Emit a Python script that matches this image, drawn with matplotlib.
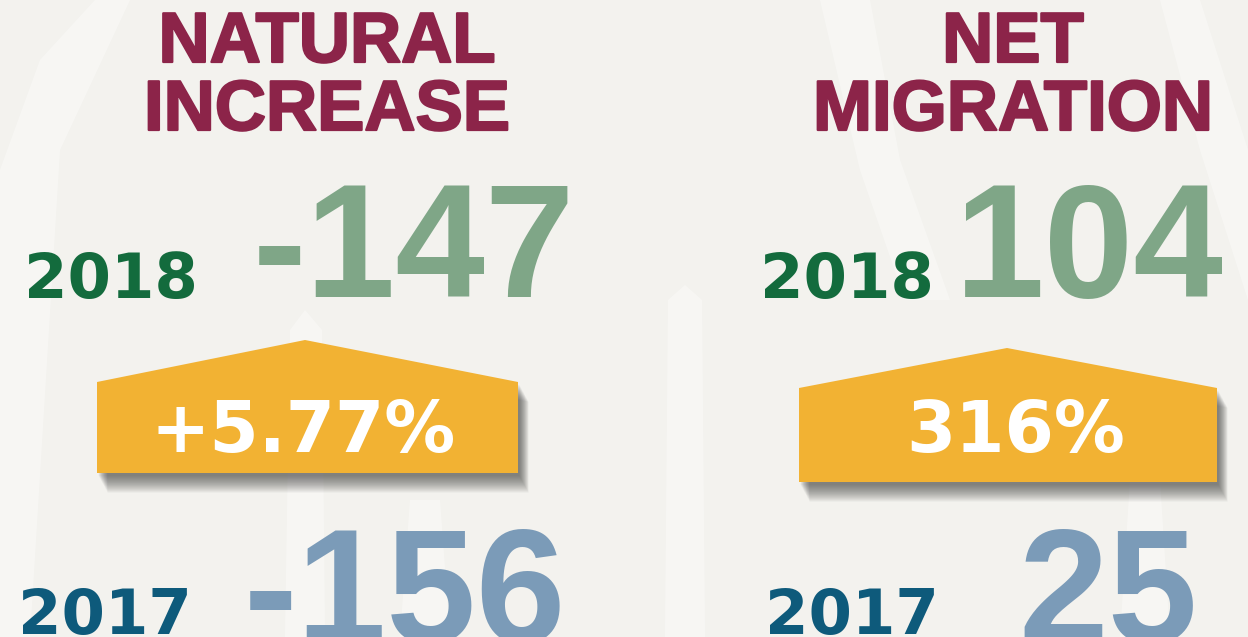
import numpy as np
import matplotlib
matplotlib.use("Agg")
import matplotlib.pyplot as plt
from matplotlib.patches import Polygon
import matplotlib.patheffects as pe

# data
titles = ["NATURAL\nINCREASE", "NET\nMIGRATION"]
years = ["2018", "2017"]
values_2018 = [-147, 104]
values_2017 = [-156, 25]
change_labels = ["+5.77%", "316%"]

BG = "#f3f2ee"
MAROON = "#8c2449"
GREEN_DARK = "#136b3d"
GREEN_LIGHT = "#7fa687"
BLUE_DARK = "#0e5a7b"
BLUE_LIGHT = "#7b9bb8"
GOLD = "#f2b233"

BOLD = "Liberation Sans"
WIDE = "DejaVu Sans"

fig = plt.figure(figsize=(12.48, 6.37), dpi=100)
fig.patch.set_facecolor(BG)
ax = fig.add_axes([0, 0, 1, 1])
ax.set_xlim(0, 1248)
ax.set_ylim(637, 0)
ax.axis("off")
ax.set_facecolor(BG)

# faint white brush strokes in the background
streaks = [
    [(0, 170), (40, 60), (95, 0), (130, 0), (60, 150), (30, 637), (0, 637)],
    [(285, 637), (290, 330), (305, 310), (322, 330), (325, 637)],
    [(665, 637), (668, 300), (685, 285), (702, 300), (705, 637)],
    [(820, 0), (870, 0), (900, 160), (950, 300), (905, 300), (860, 170)],
    [(1160, 0), (1200, 0), (1248, 150), (1248, 300), (1200, 150)],
    [(400, 637), (410, 500), (440, 500), (450, 637)],
    [(1120, 637), (1130, 480), (1160, 480), (1170, 637)],
]
for s in streaks:
    ax.add_patch(Polygon(s, closed=True, facecolor="white", edgecolor="none",
                         alpha=0.35, zorder=0))

# layout per panel: title centre, label x, number x, badge geometry
panels = [
    dict(cx=327, yr_x=[24, 18], num_x=[253, 244], badge=(97, 518, 305, 340, 382, 473), tx=303),
    dict(cx=1013, yr_x=[760, 765], num_x=[955, 1018], badge=(799, 1217, 1007, 348, 388, 482), tx=1016),
]

heavy = [pe.withStroke(linewidth=1.6, foreground=MAROON)]

for i, p in enumerate(panels):
    line1, line2 = titles[i].split("\n")
    ax.text(p["cx"], 62, line1, ha="center", va="baseline", fontsize=51,
            fontweight="bold", family=BOLD, color=MAROON, zorder=5,
            path_effects=heavy)
    ax.text(p["cx"], 130, line2, ha="center", va="baseline", fontsize=51,
            fontweight="bold", family=BOLD, color=MAROON, zorder=5,
            path_effects=heavy)

    # 2018 row
    ax.text(p["yr_x"][0], 298, years[0], ha="left", va="baseline", fontsize=45,
            fontweight="bold", family=WIDE, color=GREEN_DARK, zorder=5)
    ax.text(p["num_x"][0], 297, f"{values_2018[i]}", ha="left",
            va="baseline", fontsize=116, fontweight="bold", family=BOLD,
            color=GREEN_LIGHT, zorder=5)

    # badge with soft shadow (stacked translucent copies, offset down-right)
    x0, x1, px, py, sy, by = p["badge"]
    pts = np.array([(x0, sy), (px, py), (x1, sy), (x1, by), (x0, by)], dtype=float)
    for k in range(16, 0, -1):
        sh = pts.copy()
        sh[:, 0] += 1 + k * 0.6
        sh[:, 1] += 2 + k * 1.1
        ax.add_patch(Polygon(sh, closed=True, facecolor="#333333", edgecolor="none",
                             alpha=0.05, zorder=2))
    ax.add_patch(Polygon(pts, closed=True, facecolor=GOLD, edgecolor="none", zorder=3))
    ax.text(p["tx"], 452, change_labels[i], ha="center", va="baseline", fontsize=51,
            fontweight="bold", family=WIDE, color="white", zorder=4)

    # 2017 row
    ax.text(p["yr_x"][1], 634, years[1], ha="left", va="baseline", fontsize=45,
            fontweight="bold", family=WIDE, color=BLUE_DARK, zorder=5)
    ax.text(p["num_x"][1], 642, f"{values_2017[i]}", ha="left", va="baseline",
            fontsize=116, fontweight="bold", family=BOLD, color=BLUE_LIGHT, zorder=5)

fig.savefig("out.png", dpi=100, facecolor=BG)
